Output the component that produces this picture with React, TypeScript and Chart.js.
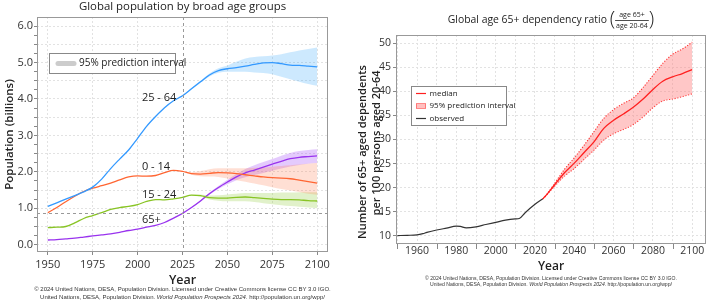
import React, { useEffect, useRef } from 'react';
import { Chart, registerables } from 'chart.js';

Chart.register(...registerables);

const FONT = '"Open Sans", "Noto Sans", sans-serif';
const CREDIT_FONT = '"Liberation Sans", Arial, sans-serif';

// ---------- Left chart data: global population by broad age groups (billions) ----------
const YEARS = [1950, 1955, 1960, 1965, 1970, 1975, 1980, 1985, 1990, 1995, 2000, 2005, 2010, 2015, 2020, 2025,
  2030, 2035, 2040, 2045, 2050, 2055, 2060, 2065, 2070, 2075, 2080, 2085, 2090, 2095, 2100];
const AGE_25_64 = [1.05, 1.15, 1.25, 1.35, 1.45, 1.58, 1.8, 2.09, 2.35, 2.6, 2.92, 3.25, 3.52, 3.76, 3.95, 4.09,
  4.28, 4.47, 4.66, 4.78, 4.83, 4.86, 4.9, 4.95, 4.99, 5.0, 4.97, 4.93, 4.92, 4.9, 4.88];
const AGE_0_14 = [0.88, 1.02, 1.18, 1.33, 1.46, 1.55, 1.62, 1.69, 1.78, 1.86, 1.89, 1.88, 1.9, 1.98, 2.04, 2.01,
  1.95, 1.94, 1.96, 1.98, 1.97, 1.95, 1.92, 1.89, 1.86, 1.84, 1.83, 1.81, 1.77, 1.73, 1.69];
const AGE_15_24 = [0.47, 0.48, 0.5, 0.6, 0.72, 0.8, 0.88, 0.97, 1.02, 1.05, 1.1, 1.19, 1.24, 1.23, 1.26, 1.3,
  1.36, 1.35, 1.29, 1.28, 1.28, 1.3, 1.31, 1.29, 1.27, 1.25, 1.24, 1.24, 1.23, 1.21, 1.2];
const AGE_65_PLUS = [0.13, 0.14, 0.16, 0.18, 0.21, 0.24, 0.27, 0.3, 0.34, 0.39, 0.43, 0.48, 0.53, 0.61, 0.73, 0.86,
  1.02, 1.2, 1.4, 1.57, 1.72, 1.86, 1.97, 2.05, 2.13, 2.21, 2.29, 2.36, 2.4, 2.42, 2.44];

const BAND_YEARS = [2025, 2030, 2035, 2040, 2045, 2050, 2055, 2060, 2065, 2070, 2075, 2080, 2085, 2090, 2095, 2100];
const HI_25_64 = [4.09, 4.3, 4.5, 4.7, 4.84, 4.92, 5.02, 5.11, 5.15, 5.17, 5.19, 5.23, 5.28, 5.33, 5.37, 5.41];
const LO_25_64 = [4.09, 4.26, 4.44, 4.62, 4.72, 4.75, 4.75, 4.75, 4.73, 4.71, 4.68, 4.61, 4.54, 4.47, 4.41, 4.36];
const HI_0_14 = [2.01, 1.99, 2.02, 2.07, 2.1, 2.1, 2.1, 2.1, 2.11, 2.12, 2.14, 2.16, 2.18, 2.2, 2.22, 2.24];
const LO_0_14 = [2.01, 1.92, 1.88, 1.87, 1.86, 1.82, 1.77, 1.73, 1.68, 1.63, 1.58, 1.53, 1.49, 1.45, 1.4, 1.37];
const HI_15_24 = [1.3, 1.37, 1.38, 1.35, 1.36, 1.38, 1.4, 1.42, 1.42, 1.42, 1.42, 1.43, 1.43, 1.44, 1.44, 1.44];
const LO_15_24 = [1.3, 1.35, 1.32, 1.24, 1.21, 1.19, 1.19, 1.19, 1.17, 1.14, 1.11, 1.08, 1.06, 1.04, 1.02, 1.0];
const HI_65_PLUS = [0.86, 1.03, 1.22, 1.43, 1.61, 1.78, 1.94, 2.08, 2.18, 2.27, 2.35, 2.44, 2.52, 2.57, 2.6, 2.62];
const LO_65_PLUS = [0.86, 1.01, 1.18, 1.37, 1.53, 1.66, 1.77, 1.85, 1.91, 1.97, 2.03, 2.09, 2.15, 2.19, 2.22, 2.24];

const LEFT_X_TICKS = [1950, 1975, 2000, 2025, 2050, 2075, 2100];
const LEFT_Y_TICKS = [0, 0.25, 0.5, 0.75, 1, 1.25, 1.5, 1.75, 2, 2.25, 2.5, 2.75, 3, 3.25, 3.5, 3.75, 4, 4.25, 4.5,
  4.75, 5, 5.25, 5.5, 5.75, 6];
const REF_YEAR = 2025;
const REF_VALUE = 0.87;
const GROUP_LABELS = ['25 - 64', '0 - 14', '15 - 24', '65+'];
const GROUP_LABEL_VALUES = [4.03, 2.15, 1.37, 0.68];
const GROUP_LABEL_YEAR = 2002.4;

// ---------- Right chart data: global age 65+ dependency ratio ----------
const OBS_YEARS = [1950, 1955, 1960, 1963, 1965, 1970, 1975, 1980, 1982, 1985, 1990, 1995, 2000, 2005, 2010, 2012,
  2015, 2020, 2024];
const OBSERVED = [10.05, 10.1, 10.2, 10.45, 10.7, 11.2, 11.6, 12.0, 11.95, 11.65, 11.87, 12.35, 12.8, 13.25, 13.5,
  13.6, 14.8, 16.55, 17.7];
const PROJ_YEARS = [2024, 2025, 2030, 2035, 2040, 2045, 2050, 2055, 2060, 2065, 2070, 2075, 2080, 2085, 2090, 2095, 2100];
const MEDIAN = [17.7, 18.1, 20.6, 23.1, 25.1, 27.3, 29.5, 32.3, 34.0, 35.3, 36.7, 38.4, 40.4, 42.1, 43.0, 43.7, 44.5];
const UPPER = [17.7, 18.1, 20.9, 23.8, 26.2, 28.8, 31.6, 34.4, 36.2, 37.5, 38.6, 40.8, 43.3, 45.8, 47.7, 48.8, 50.2];
const LOWER = [17.7, 18.1, 20.3, 22.4, 24.0, 25.9, 27.8, 29.9, 31.2, 32.1, 33.1, 34.7, 36.6, 38.0, 38.4, 38.9, 39.5];
const RIGHT_X_TICKS = [1950, 1960, 1970, 1980, 1990, 2000, 2010, 2020, 2030, 2040, 2050, 2060, 2070, 2080, 2090, 2100];
const RIGHT_Y_TICKS = [10, 15, 20, 25, 30, 35, 40, 45, 50];

const pts = (xs: number[], ys: number[]) => xs.map((x, i) => ({ x, y: ys[i] }));

const C_BLUE = '#3399ff';
const C_ORANGE = '#ff6633';
const C_GREEN = '#88c424';
const C_PURPLE = '#9933ee';

function drawCredit(ctx: CanvasRenderingContext2D, cx: number, y1: number, y2: number, size: number) {
  const l1 = '© 2024 United Nations, DESA, Population Division. Licensed under Creative Commons license CC BY 3.0 IGO.';
  const a = 'United Nations, DESA, Population Division. ';
  const b = 'World Population Prospects 2024';
  const c = '. http://population.un.org/wpp/';
  const fN = `${size}px ${CREDIT_FONT}`;
  const fI = `italic ${size}px ${CREDIT_FONT}`;
  ctx.save();
  ctx.fillStyle = '#333';
  ctx.textBaseline = 'middle';
  ctx.textAlign = 'center';
  ctx.font = fN;
  ctx.fillText(l1, cx, y1);
  const wa = ctx.measureText(a).width;
  const wc = ctx.measureText(c).width;
  ctx.font = fI;
  const wb = ctx.measureText(b).width;
  let x = cx - (wa + wb + wc) / 2;
  ctx.textAlign = 'left';
  ctx.font = fN; ctx.fillText(a, x, y2); x += wa;
  ctx.font = fI; ctx.fillText(b, x, y2); x += wb;
  ctx.font = fN; ctx.fillText(c, x, y2);
  ctx.restore();
}

function frame(chart: any) {
  const { ctx, chartArea: a } = chart;
  ctx.save();
  ctx.strokeStyle = '#999';
  ctx.lineWidth = 1;
  ctx.strokeRect(Math.round(a.left) + 0.5, Math.round(a.top) + 0.5, Math.round(a.right - a.left) - 1, Math.round(a.bottom - a.top) - 1);
  ctx.restore();
}

const leftDeco = {
  id: 'leftDeco',
  afterDatasetsDraw(chart: any) {
    const { ctx, chartArea: a, scales } = chart;
    const x = scales.x, y = scales.y;
    ctx.save();
    ctx.strokeStyle = '#999';
    ctx.lineWidth = 1;
    ctx.setLineDash([3, 3]);
    const rx = Math.round(x.getPixelForValue(REF_YEAR)) + 0.5;
    ctx.beginPath(); ctx.moveTo(rx, a.top); ctx.lineTo(rx, a.bottom); ctx.stroke();
    const ry = Math.round(y.getPixelForValue(REF_VALUE)) + 0.5;
    ctx.beginPath(); ctx.moveTo(a.left, ry); ctx.lineTo(a.right, ry); ctx.stroke();
    ctx.restore();
  },
  afterDraw(chart: any) {
    const { ctx, chartArea: a, scales } = chart;
    frame(chart);
    ctx.save();
    ctx.fillStyle = '#222';
    ctx.textAlign = 'center';
    ctx.textBaseline = 'middle';
    const cx = (a.left + a.right) / 2;
    ctx.font = `11.4px ${FONT}`;
    ctx.fillText('Global population by broad age groups', cx, 7);
    ctx.font = `600 12.5px ${FONT}`;
    ctx.fillText('Year', cx, 280);
    ctx.font = `600 11.5px ${FONT}`;
    ctx.save();
    ctx.translate(10, (a.top + a.bottom) / 2);
    ctx.rotate(-Math.PI / 2);
    ctx.fillText('Population (billions)', 0, 0);
    ctx.restore();
    // group labels
    ctx.font = `11px ${FONT}`;
    ctx.textAlign = 'left';
    GROUP_LABELS.forEach((t, i) => {
      ctx.fillText(t, scales.x.getPixelForValue(GROUP_LABEL_YEAR), scales.y.getPixelForValue(GROUP_LABEL_VALUES[i]));
    });
    // legend box
    ctx.fillStyle = '#fff';
    ctx.fillRect(49, 53, 126, 20);
    ctx.strokeStyle = '#888';
    ctx.lineWidth = 1;
    ctx.strokeRect(49.5, 53.5, 126, 20);
    ctx.strokeStyle = '#cccccc';
    ctx.lineWidth = 5;
    ctx.lineCap = 'round';
    ctx.beginPath(); ctx.moveTo(58, 63.5); ctx.lineTo(74, 63.5); ctx.stroke();
    ctx.fillStyle = '#222';
    ctx.font = `10px ${FONT}`;
    ctx.fillText('95% prediction interval', 79, 63.5);
    ctx.restore();
    drawCredit(ctx, cx, 289, 297, 6);
  },
};

const rightDeco = {
  id: 'rightDeco',
  afterDraw(chart: any) {
    const { ctx, chartArea: a, scales } = chart;
    frame(chart);
    ctx.save();
    // bottom tick marks at unlabelled decades
    ctx.strokeStyle = '#888';
    ctx.lineWidth = 1;
    RIGHT_X_TICKS.forEach((v) => {
      if (v % 20 !== 0) {
        const px = Math.round(scales.x.getPixelForValue(v)) + 0.5;
        ctx.beginPath(); ctx.moveTo(px, a.bottom); ctx.lineTo(px, a.bottom + 5); ctx.stroke();
      }
    });
    ctx.fillStyle = '#222';
    ctx.textBaseline = 'middle';
    // title with fraction
    const main = 'Global age 65+ dependency ratio ';
    ctx.font = `10.4px ${FONT}`;
    const wMain = ctx.measureText(main).width;
    ctx.font = `7px ${FONT}`;
    const wNum = ctx.measureText('age 65+').width;
    const wDen = ctx.measureText('age 20-64').width;
    const wFrac = Math.max(wNum, wDen) + 2;
    ctx.font = `300 20px ${FONT}`;
    const wP = ctx.measureText('(').width;
    const total = wMain + wP + wFrac + wP;
    let x = (a.left + a.right) / 2 - total / 2;
    const ty = 20;
    ctx.textAlign = 'left';
    ctx.font = `10.4px ${FONT}`;
    ctx.fillText(main, x, ty); x += wMain;
    ctx.font = `300 20px ${FONT}`;
    ctx.fillText('(', x, ty); x += wP;
    ctx.font = `7px ${FONT}`;
    ctx.textAlign = 'center';
    ctx.fillText('age 65+', x + wFrac / 2, ty - 5.5);
    ctx.fillText('age 20-64', x + wFrac / 2, ty + 6);
    ctx.fillRect(x, ty, wFrac, 0.8);
    x += wFrac;
    ctx.textAlign = 'left';
    ctx.font = `300 20px ${FONT}`;
    ctx.fillText(')', x, ty);
    // axis titles
    ctx.textAlign = 'center';
    ctx.font = `600 12px ${FONT}`;
    ctx.fillText('Year', (a.left + a.right) / 2, 267);
    ctx.font = `600 11px ${FONT}`;
    ctx.save();
    ctx.translate(9, 152);
    ctx.rotate(-Math.PI / 2);
    ctx.fillText('Number of 65+ aged dependents', 0, 0);
    ctx.restore();
    ctx.save();
    ctx.translate(23, 143);
    ctx.rotate(-Math.PI / 2);
    ctx.fillText('per 100 persons aged 20-64', 0, 0);
    ctx.restore();
    // legend
    ctx.fillStyle = '#fff';
    ctx.fillRect(57, 86.5, 95, 39);
    ctx.strokeStyle = '#888';
    ctx.lineWidth = 1;
    ctx.strokeRect(57.5, 86.5, 95, 39);
    ctx.strokeStyle = '#ff2020';
    ctx.lineWidth = 1.2;
    ctx.beginPath(); ctx.moveTo(62, 93.5); ctx.lineTo(72, 93.5); ctx.stroke();
    ctx.fillStyle = 'rgba(255,150,150,0.6)';
    ctx.fillRect(62, 103.5, 10, 5);
    ctx.setLineDash([1, 1]);
    ctx.strokeStyle = '#ff3030';
    ctx.lineWidth = 1;
    ctx.strokeRect(62.5, 103.5, 9, 5);
    ctx.setLineDash([]);
    ctx.strokeStyle = '#333';
    ctx.lineWidth = 1.2;
    ctx.beginPath(); ctx.moveTo(62, 118.5); ctx.lineTo(72, 118.5); ctx.stroke();
    ctx.fillStyle = '#222';
    ctx.textAlign = 'left';
    ctx.font = `8px ${FONT}`;
    ctx.fillText('median', 75.5, 93.5);
    ctx.fillText('95% prediction interval', 75.5, 106);
    ctx.fillText('observed', 75.5, 118.5);
    ctx.restore();
    drawCredit(ctx, (a.left + a.right) / 2, 279, 285, 5.1);
  },
};

const lineDs = (label: string, xs: number[], ys: number[], color: string, width = 1.3) => ({
  label,
  data: pts(xs, ys),
  borderColor: color,
  backgroundColor: color,
  borderWidth: width,
  pointRadius: 0,
  fill: false,
  cubicInterpolationMode: 'monotone' as const,
});
const bandDs = (label: string, xs: number[], ys: number[], fillColor: string, fill: any, border = 'transparent', dash: number[] = []) => ({
  label,
  data: pts(xs, ys),
  borderColor: border,
  borderWidth: border === 'transparent' ? 0.01 : 1.1,
  borderDash: dash,
  backgroundColor: fillColor,
  pointRadius: 0,
  fill,
  cubicInterpolationMode: 'monotone' as const,
});

export default function App() {
  const leftRef = useRef<HTMLCanvasElement>(null);
  const rightRef = useRef<HTMLCanvasElement>(null);

  useEffect(() => {
    Chart.defaults.font.family = FONT;
    Chart.defaults.color = '#333';
    const gridColor = '#e2e2e2';

    const left = new Chart(leftRef.current as HTMLCanvasElement, {
      type: 'line',
      data: {
        datasets: [
          lineDs('25 - 64', YEARS, AGE_25_64, C_BLUE),
          lineDs('0 - 14', YEARS, AGE_0_14, C_ORANGE),
          lineDs('15 - 24', YEARS, AGE_15_24, C_GREEN),
          lineDs('65+', YEARS, AGE_65_PLUS, C_PURPLE),
          bandDs('25-64 hi', BAND_YEARS, HI_25_64, 'rgba(60,170,250,0.26)', '+1'),
          bandDs('25-64 lo', BAND_YEARS, LO_25_64, 'transparent', false),
          bandDs('0-14 hi', BAND_YEARS, HI_0_14, 'rgba(255,130,90,0.26)', '+1'),
          bandDs('0-14 lo', BAND_YEARS, LO_0_14, 'transparent', false),
          bandDs('15-24 hi', BAND_YEARS, HI_15_24, 'rgba(140,200,50,0.26)', '+1'),
          bandDs('15-24 lo', BAND_YEARS, LO_15_24, 'transparent', false),
          bandDs('65+ hi', BAND_YEARS, HI_65_PLUS, 'rgba(165,80,250,0.3)', '+1'),
          bandDs('65+ lo', BAND_YEARS, LO_65_PLUS, 'transparent', false),
        ],
      },
      options: {
        responsive: false,
        animation: false,
        events: [],
        layout: { padding: { top: 17, right: 26, bottom: 0, left: 0 } },
        plugins: { legend: { display: false }, tooltip: { enabled: false }, title: { display: false } },
        scales: {
          x: {
            type: 'linear',
            min: 1944,
            max: 2106,
            afterBuildTicks: (s: any) => { s.ticks = LEFT_X_TICKS.map((v) => ({ value: v })); },
            afterFit: (s: any) => { s.height = 52; },
            ticks: { font: { size: 11 }, color: '#333', padding: 3, autoSkip: false, maxRotation: 0, callback: (v: any) => String(v) },
            grid: {
              color: (c: any) => (c.tick && c.tick.value === REF_YEAR ? 'transparent' : gridColor),
              tickColor: '#888',
              tickLength: 3,
              lineWidth: 1,
            },
            border: { display: false, dash: [2, 2] },
          },
          y: {
            type: 'linear',
            min: -0.2,
            max: 6.25,
            afterBuildTicks: (s: any) => { s.ticks = LEFT_Y_TICKS.map((v) => ({ value: v })); },
            afterFit: (s: any) => { s.width = 37; },
            ticks: {
              font: { size: 11 }, color: '#333', padding: 1, autoSkip: false,
              callback: (v: any) => (Math.abs(v % 1) < 1e-9 ? Number(v).toFixed(1) : ''),
            },
            grid: {
              color: (c: any) => (c.tick && Math.abs((c.tick.value * 2) % 1) < 1e-9 ? gridColor : 'transparent'),
              tickColor: '#888',
              tickLength: 3,
            },
            border: { display: false, dash: [2, 2] },
          },
        },
      },
      plugins: [leftDeco],
    } as any);

    const right = new Chart(rightRef.current as HTMLCanvasElement, {
      type: 'line',
      data: {
        datasets: [
          lineDs('median', PROJ_YEARS, MEDIAN, '#ff2020', 1.3),
          lineDs('observed', OBS_YEARS, OBSERVED, '#333333', 1.2),
          bandDs('upper', PROJ_YEARS, UPPER, 'rgba(255,130,130,0.45)', '+1', '#ff3030', [1.2, 1.6]),
          bandDs('lower', PROJ_YEARS, LOWER, 'transparent', false, '#ff3030', [1.2, 1.6]),
        ],
      },
      options: {
        responsive: false,
        animation: false,
        events: [],
        layout: { padding: { top: 35, right: 2, bottom: 0, left: 0 } },
        plugins: { legend: { display: false }, tooltip: { enabled: false }, title: { display: false } },
        scales: {
          x: {
            type: 'linear',
            min: 1949.3,
            max: 2107,
            afterBuildTicks: (s: any) => { s.ticks = RIGHT_X_TICKS.map((v) => ({ value: v })); },
            afterFit: (s: any) => { s.height = 60; },
            ticks: {
              font: { size: 10.5 }, color: '#333', padding: 1, autoSkip: false, maxRotation: 0,
              callback: (v: any) => (v % 20 === 0 ? String(v) : ''),
            },
            grid: { color: gridColor, drawTicks: false },
            border: { display: false, dash: [2, 2] },
          },
          y: {
            type: 'linear',
            min: 8.3,
            max: 51.7,
            afterBuildTicks: (s: any) => { s.ticks = RIGHT_Y_TICKS.map((v) => ({ value: v })); },
            afterFit: (s: any) => { s.width = 42; },
            ticks: { font: { size: 10.5 }, color: '#333', padding: 2, autoSkip: false },
            grid: { color: gridColor, tickColor: '#888', tickLength: 3 },
            border: { display: false, dash: [2, 2] },
          },
        },
      },
      plugins: [rightDeco],
    } as any);

    return () => {
      left.destroy();
      right.destroy();
    };
  }, []);

  return (
    <div style={{ position: 'fixed', left: 0, top: 0, width: 708, height: 304, background: '#fff', overflow: 'hidden' }}>
      <canvas ref={leftRef} width={354} height={304} style={{ position: 'absolute', left: 0, top: 0, width: 354, height: 304 }} />
      <canvas ref={rightRef} width={354} height={304} style={{ position: 'absolute', left: 354, top: 0, width: 354, height: 304 }} />
    </div>
  );
}
